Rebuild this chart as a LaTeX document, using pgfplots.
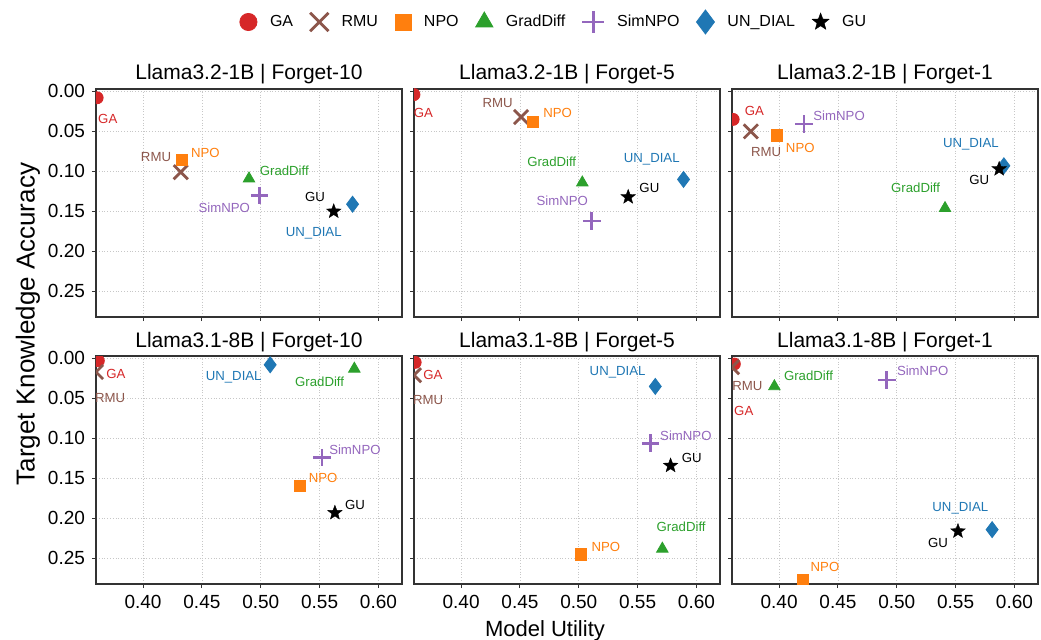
\documentclass[border=0pt]{standalone}
\usepackage{fontspec}
\setmainfont{Liberation Sans}
\usepackage{pgfplots}
\pgfplotsset{compat=1.18}
\usepgfplotslibrary{groupplots}
\definecolor{gaC}{HTML}{D62728}
\definecolor{rmuC}{HTML}{8C564B}
\definecolor{npoC}{HTML}{FF7F0E}
\definecolor{gdC}{HTML}{2CA02C}
\definecolor{simC}{HTML}{9467BD}
\definecolor{unC}{HTML}{1F77B4}
\pgfdeclareplotmark{fstar}{%
  \pgfpathmoveto{\pgfpointpolar{90}{\pgfplotmarksize}}%
  \pgfpathlineto{\pgfpointpolar{126}{0.42\pgfplotmarksize}}%
  \pgfpathlineto{\pgfpointpolar{162}{\pgfplotmarksize}}%
  \pgfpathlineto{\pgfpointpolar{198}{0.42\pgfplotmarksize}}%
  \pgfpathlineto{\pgfpointpolar{234}{\pgfplotmarksize}}%
  \pgfpathlineto{\pgfpointpolar{270}{0.42\pgfplotmarksize}}%
  \pgfpathlineto{\pgfpointpolar{306}{\pgfplotmarksize}}%
  \pgfpathlineto{\pgfpointpolar{342}{0.42\pgfplotmarksize}}%
  \pgfpathlineto{\pgfpointpolar{18}{\pgfplotmarksize}}%
  \pgfpathlineto{\pgfpointpolar{54}{0.42\pgfplotmarksize}}%
  \pgfpathclose
  \pgfusepathqfillstroke
}
\pgfplotsset{
  gaS/.style={only marks, mark=*, mark size=3pt, color=gaC},
  rmuS/.style={only marks, mark=x, mark size=5pt, color=rmuC, mark options={line width=1.4pt}},
  npoS/.style={only marks, mark=square*, mark size=2.8pt, color=npoC},
  gdS/.style={only marks, mark=triangle*, mark size=3.3pt, color=gdC},
  simS/.style={only marks, mark=+, mark size=4.4pt, color=simC, mark options={line width=1.3pt}},
  unS/.style={only marks, mark=diamond*, mark size=4pt, color=unC},
  guS/.style={only marks, mark=fstar, mark size=3.8pt, color=black, mark options={line width=0.2pt}},
}
\tikzset{lab/.style={font=\fontsize{6.6}{7}\selectfont, inner sep=0pt, anchor=center}}
\begin{document}
\begin{tikzpicture}
\begin{groupplot}[
  group style={group size=3 by 2, horizontal sep=6pt, vertical sep=19.5pt,
    xticklabels at=edge bottom, yticklabels at=edge left},
  width=153pt, height=114pt, scale only axis,
  xmin=0.36, xmax=0.62, ymin=-0.003, ymax=0.282, y dir=reverse,
  clip marker paths=true,
  xtick={0.4,0.45,0.5,0.55,0.6}, ytick={0,0.05,0.1,0.15,0.2,0.25},
  xtick pos=bottom, ytick pos=left, tick align=outside,
  major tick length=2pt,
  tick style={black!80, line width=0.5pt},
  axis line style={black!80, line width=0.6pt},
  grid=major, grid style={densely dotted, black!22, line width=0.4pt},
  tick label style={font=\fontsize{9.5}{11}\selectfont},
  xticklabel style={/pgf/number format/.cd, fixed, fixed zerofill, precision=2, assume math mode=true},
  yticklabel style={/pgf/number format/.cd, fixed, fixed zerofill, precision=2, assume math mode=true},
  title style={font=\fontsize{10.5}{12}\selectfont, at={(0.5,1)}, anchor=base, yshift=-1.5pt},
]
% ---------- Llama3.2-1B | Forget-10
\nextgroupplot[title={Llama3.2-1B | Forget-10}]
\addplot[gaS] coordinates {(0.361,0.008)};
\addplot[rmuS] coordinates {(0.432,0.101)};
\addplot[npoS] coordinates {(0.433,0.086)};
\addplot[gdS] coordinates {(0.490,0.109)};
\addplot[simS] coordinates {(0.499,0.130)};
\addplot[unS] coordinates {(0.578,0.141)};
\addplot[guS] coordinates {(0.562,0.150)};
\node[lab, text=gaC] at (axis cs:0.370,0.034) {GA};
\node[lab, text=rmuC] at (axis cs:0.411,0.082) {RMU};
\node[lab, text=npoC] at (axis cs:0.453,0.077) {NPO};
\node[lab, text=gdC] at (axis cs:0.520,0.099) {GradDiff};
\node[lab, text=simC] at (axis cs:0.469,0.145) {SimNPO};
\node[lab, text=black] at (axis cs:0.546,0.132) {GU};
\node[lab, text=unC] at (axis cs:0.545,0.177) {UN\_DIAL};
% ---------- Llama3.2-1B | Forget-5
\nextgroupplot[title={Llama3.2-1B | Forget-5},
  legend style={at={(0.5,1)}, anchor=center, xshift=-6pt, yshift=33.5pt, draw=none, fill=none,
    legend columns=7, font=\fontsize{8}{9}\selectfont,
    /tikz/every odd column/.append style={column sep=4.5pt},
    /tikz/every even column/.append style={column sep=6.5pt}}]
\addlegendimage{gaS, mark size=4.3pt}\addlegendentry{GA}
\addlegendimage{rmuS, mark size=6.5pt}\addlegendentry{RMU}
\addlegendimage{npoS, mark size=4pt}\addlegendentry{NPO}
\addlegendimage{gdS, mark size=5pt}\addlegendentry{GradDiff}
\addlegendimage{simS, mark size=5.5pt}\addlegendentry{SimNPO}
\addlegendimage{unS, mark size=6pt}\addlegendentry{UN\_DIAL}
\addlegendimage{guS, mark size=4.5pt}\addlegendentry{GU}
\addplot[gaS] coordinates {(0.360,0.004)};
\addplot[rmuS] coordinates {(0.451,0.032)};
\addplot[npoS] coordinates {(0.461,0.038)};
\addplot[gdS] coordinates {(0.503,0.114)};
\addplot[simS] coordinates {(0.511,0.162)};
\addplot[unS] coordinates {(0.589,0.110)};
\addplot[guS] coordinates {(0.542,0.132)};
\node[lab, text=gaC] at (axis cs:0.368,0.027) {GA};
\node[lab, text=rmuC] at (axis cs:0.431,0.014) {RMU};
\node[lab, text=npoC] at (axis cs:0.482,0.027) {NPO};
\node[lab, text=gdC] at (axis cs:0.477,0.088) {GradDiff};
\node[lab, text=simC] at (axis cs:0.486,0.137) {SimNPO};
\node[lab, text=black] at (axis cs:0.560,0.121) {GU};
\node[lab, text=unC] at (axis cs:0.562,0.085) {UN\_DIAL};
% ---------- Llama3.2-1B | Forget-1
\nextgroupplot[title={Llama3.2-1B | Forget-1}]
\addplot[gaS] coordinates {(0.361,0.035)};
\addplot[rmuS] coordinates {(0.376,0.050)};
\addplot[npoS] coordinates {(0.398,0.055)};
\addplot[gdS] coordinates {(0.541,0.146)};
\addplot[simS] coordinates {(0.421,0.041)};
\addplot[unS] coordinates {(0.591,0.093)};
\addplot[guS] coordinates {(0.587,0.097)};
\node[lab, text=gaC] at (axis cs:0.379,0.025) {GA};
\node[lab, text=rmuC] at (axis cs:0.389,0.076) {RMU};
\node[lab, text=npoC] at (axis cs:0.418,0.071) {NPO};
\node[lab, text=gdC] at (axis cs:0.516,0.120) {GradDiff};
\node[lab, text=simC] at (axis cs:0.451,0.031) {SimNPO};
\node[lab, text=black] at (axis cs:0.570,0.111) {GU};
\node[lab, text=unC] at (axis cs:0.563,0.066) {UN\_DIAL};
% ---------- Llama3.1-8B | Forget-10
\nextgroupplot[title={Llama3.1-8B | Forget-10}]
\addplot[gaS] coordinates {(0.362,0.003)};
\addplot[rmuS] coordinates {(0.360,0.017)};
\addplot[npoS] coordinates {(0.533,0.159)};
\addplot[gdS] coordinates {(0.5795,0.013)};
\addplot[simS] coordinates {(0.552,0.124)};
\addplot[unS] coordinates {(0.508,0.008)};
\addplot[guS] coordinates {(0.563,0.193)};
\node[lab, text=gaC] at (axis cs:0.377,0.019) {GA};
\node[lab, text=rmuC] at (axis cs:0.372,0.049) {RMU};
\node[lab, text=npoC] at (axis cs:0.553,0.149) {NPO};
\node[lab, text=gdC] at (axis cs:0.550,0.029) {GradDiff};
\node[lab, text=simC] at (axis cs:0.580,0.114) {SimNPO};
\node[lab, text=black] at (axis cs:0.580,0.183) {GU};
\node[lab, text=unC] at (axis cs:0.477,0.023) {UN\_DIAL};
% ---------- Llama3.1-8B | Forget-5
\nextgroupplot[title={Llama3.1-8B | Forget-5}]
\addplot[gaS] coordinates {(0.361,0.005)};
\addplot[rmuS] coordinates {(0.360,0.021)};
\addplot[npoS] coordinates {(0.502,0.245)};
\addplot[gdS] coordinates {(0.571,0.238)};
\addplot[simS] coordinates {(0.561,0.106)};
\addplot[unS] coordinates {(0.565,0.035)};
\addplot[guS] coordinates {(0.578,0.134)};
\node[lab, text=gaC] at (axis cs:0.376,0.021) {GA};
\node[lab, text=rmuC] at (axis cs:0.372,0.052) {RMU};
\node[lab, text=npoC] at (axis cs:0.523,0.236) {NPO};
\node[lab, text=gdC] at (axis cs:0.587,0.211) {GradDiff};
\node[lab, text=simC] at (axis cs:0.591,0.097) {SimNPO};
\node[lab, text=black] at (axis cs:0.596,0.124) {GU};
\node[lab, text=unC] at (axis cs:0.533,0.017) {UN\_DIAL};
% ---------- Llama3.1-8B | Forget-1
\nextgroupplot[title={Llama3.1-8B | Forget-1}]
\addplot[gaS] coordinates {(0.362,0.007)};
\addplot[rmuS] coordinates {(0.360,0.011)};
\addplot[npoS] coordinates {(0.420,0.2775)};
\addplot[gdS] coordinates {(0.396,0.035)};
\addplot[simS] coordinates {(0.4915,0.027)};
\addplot[unS] coordinates {(0.581,0.214)};
\addplot[guS] coordinates {(0.552,0.216)};
\node[lab, text=gaC] at (axis cs:0.370,0.066) {GA};
\node[lab, text=rmuC] at (axis cs:0.373,0.035) {RMU};
\node[lab, text=npoC] at (axis cs:0.439,0.261) {NPO};
\node[lab, text=gdC] at (axis cs:0.425,0.022) {GradDiff};
\node[lab, text=simC] at (axis cs:0.522,0.016) {SimNPO};
\node[lab, text=black] at (axis cs:0.535,0.231) {GU};
\node[lab, text=unC] at (axis cs:0.554,0.187) {UN\_DIAL};
\end{groupplot}
\node[font=\fontsize{11}{13}\selectfont, anchor=base] at ([xshift=-11pt, yshift=-26pt]group c2r2.south) {Model Utility};
\node[font=\fontsize{13}{15}\selectfont, rotate=90, anchor=center] at ([xshift=-34pt, yshift=-117.5pt]group c1r1.north west) {Target Knowledge Accuracy};
\pgfresetboundingbox
\path[use as bounding box] ([xshift=-48pt, yshift=44.5pt]group c1r1.north west) rectangle ([xshift=1.5pt, yshift=-28pt]group c3r2.south east);
\end{tikzpicture}
\end{document}
